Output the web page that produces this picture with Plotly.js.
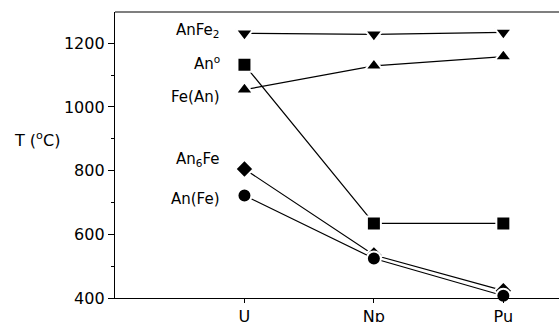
<!DOCTYPE html>
<html><head><meta charset="utf-8">
<script src="https://cdn.plot.ly/plotly-3.0.1.min.js"></script>
<style>html,body{margin:0;padding:0;background:#fff;overflow:hidden}</style>
</head><body><div id="chart" style="width:559px;height:322px"></div>
<script>
const elements = ['U', 'Np', 'Pu'];
const anFe2 = [1231, 1228, 1234];
const anO = [1132, 634, 634];
const feAn = [1054, 1129, 1158];
const an6Fe = [805, 535, 423];
const anFe = [722, 524, 407];
const yTicks = [400, 600, 800, 1000, 1200];

const seriesDefs = [
  {name: 'AnFe<sub>2</sub>', y: anFe2, symbol: 'triangle-down', size: 15, shift: 3},
  {name: 'An<sup>o</sup>', y: anO, symbol: 'square', size: 14, shift: 2},
  {name: 'Fe(An)', y: feAn, symbol: 'triangle-up', size: 15, shift: -7},
  {name: 'An<sub>6</sub>Fe', y: an6Fe, symbol: 'diamond', size: 14, shift: 10},
  {name: 'An(Fe)', y: anFe, symbol: 'circle', size: 14, shift: -4}
];

const traces = seriesDefs.map(s => ({
  type: 'scatter', mode: 'lines+markers', x: elements, y: s.y, name: s.name,
  line: {color: '#000', width: 1.2},
  marker: {symbol: s.symbol, size: s.size, color: '#000', line: {color: '#fff', width: 2}},
  cliponaxis: false, showlegend: false
}));

const annotations = seriesDefs.map(s => ({
  x: elements[0], y: s.y[0], xref: 'x', yref: 'y', text: s.name, showarrow: false,
  xanchor: 'right', yanchor: 'middle', xshift: -22, yshift: s.shift,
  font: {family: 'DejaVu Sans', size: 15, color: '#000'}
}));
annotations.push({
  xref: 'paper', yref: 'paper', x: -0.232, y: 0.555, xanchor: 'left', yanchor: 'middle',
  text: 'T (<sup>o</sup>C)', showarrow: false,
  font: {family: 'DejaVu Sans', size: 16, color: '#000'}
});

const layout = {
  width: 559, height: 322,
  margin: {l: 115, r: 0, t: 12, b: 24},
  paper_bgcolor: '#fff', plot_bgcolor: '#fff',
  font: {family: 'DejaVu Sans', size: 15, color: '#000'},
  xaxis: {
    type: 'category', categoryarray: elements, range: [-1, 2.43],
    showline: true, linecolor: '#000', linewidth: 1.2, showgrid: false, zeroline: false,
    ticks: 'outside', ticklen: 4, tickcolor: '#000', tickwidth: 1,
    tickfont: {family: 'DejaVu Sans', size: 16, color: '#000'}
  },
  yaxis: {
    range: [400, 1298], tickvals: yTicks,
    showline: true, linecolor: '#000', linewidth: 1.2, showgrid: false, zeroline: false,
    ticks: 'outside', ticklen: 6, tickcolor: '#000', tickwidth: 1,
    minor: {dtick: 100, ticks: 'outside', ticklen: 3, tickcolor: '#000', showgrid: false},
    tickfont: {family: 'DejaVu Sans', size: 16, color: '#000'}
  },
  shapes: [{type: 'line', xref: 'paper', yref: 'paper', x0: 0, x1: 1, y0: 1, y1: 1,
    line: {color: '#000', width: 1.2}}],
  annotations: annotations
};

Plotly.newPlot('chart', traces, layout, {displayModeBar: false, staticPlot: true});
</script></body></html>
